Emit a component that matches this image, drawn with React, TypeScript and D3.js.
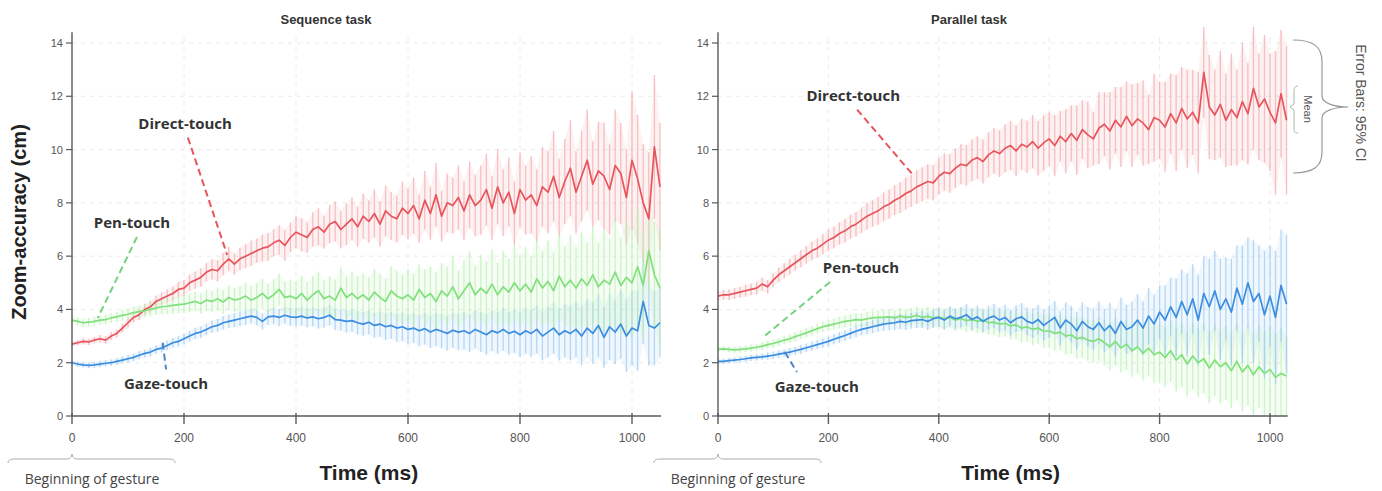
import * as d3 from 'd3';

// ---------------------------------------------------------------------------
// Data (one sample every 10 ms)
// ---------------------------------------------------------------------------
const TIME_STEP = 10;
const Y_TICKS = [0, 2, 4, 6, 8, 10, 12, 14];
const X_TICKS = [0, 200, 400, 600, 800, 1000];

// Sequence task
const SEQ_DIRECT = [
  2.7, 2.75, 2.8, 2.78, 2.85, 2.9, 2.85, 3.0, 3.1, 3.3,
  3.5, 3.7, 3.8, 4.0, 4.1, 4.3, 4.4, 4.5, 4.6, 4.75,
  4.8, 5.0, 5.1, 5.2, 5.4, 5.5, 5.45, 5.7, 5.9, 5.7,
  5.9, 6.0, 6.1, 6.2, 6.3, 6.35, 6.5, 6.6, 6.4, 6.7,
  6.9, 6.8, 6.7, 7.0, 7.1, 6.9, 7.2, 7.3, 7.0, 7.2,
  7.4, 7.1, 7.5, 7.3, 7.6, 7.2, 7.7, 7.5, 7.4, 7.8,
  7.6, 7.9, 7.4, 8.1, 7.6, 8.3, 7.5, 8.0, 7.9, 8.2,
  7.7, 8.3, 7.9, 8.1, 8.5, 7.8, 8.6, 8.0, 8.4, 7.6,
  8.5, 8.1, 8.3, 7.9, 8.6, 8.4, 9.0, 8.2, 8.8, 9.3,
  8.4, 9.0, 9.6, 8.7, 9.2, 9.0, 8.5, 9.4, 9.1, 8.2,
  9.6, 8.9, 8.0, 7.4, 10.1, 8.6,
];
const SEQ_DIRECT_CI = [
  0.1, 0.1, 0.12, 0.12, 0.12, 0.14, 0.14, 0.15, 0.15, 0.16,
  0.18, 0.18, 0.2, 0.2, 0.22, 0.22, 0.24, 0.25, 0.26, 0.28,
  0.3, 0.3, 0.32, 0.35, 0.34, 0.38, 0.4, 0.42, 0.45, 0.4,
  0.42, 0.45, 0.48, 0.45, 0.5, 0.52, 0.5, 0.55, 0.58, 0.55,
  0.6, 0.62, 0.58, 0.65, 0.7, 0.62, 0.72, 0.75, 0.7, 0.78,
  0.8, 0.75, 0.85, 0.8, 0.9, 0.85, 0.95, 0.9, 0.88, 1.0,
  0.95, 1.05, 0.9, 1.1, 1.0, 1.2, 0.95, 1.1, 1.05, 1.2,
  1.1, 1.25, 1.15, 1.3, 1.35, 1.2, 1.4, 1.25, 1.3, 1.2,
  1.4, 1.3, 1.45, 1.35, 1.5, 1.55, 1.7, 1.45, 1.6, 1.8,
  1.55, 1.7, 1.9, 1.6, 1.85, 2.0, 1.7, 2.1, 1.9, 1.8,
  2.6, 2.4, 2.2, 2.5, 2.7, 2.4,
];
const SEQ_PEN = [
  3.6, 3.55, 3.5, 3.52, 3.55, 3.6, 3.62, 3.68, 3.72, 3.78,
  3.82, 3.88, 3.92, 3.95, 4.0, 4.05, 4.1, 4.12, 4.15, 4.18,
  4.2, 4.25, 4.3, 4.22, 4.35, 4.3, 4.4, 4.28, 4.45, 4.35,
  4.4, 4.5, 4.35, 4.45, 4.6, 4.4, 4.55, 4.75, 4.45, 4.5,
  4.4, 4.6, 4.35, 4.55, 4.7, 4.4, 4.5, 4.35, 4.8, 4.45,
  4.6, 4.4, 4.55, 4.35, 4.65, 4.45, 4.3, 4.7, 4.5, 4.4,
  4.55, 4.35, 4.75, 4.45, 4.6, 4.3, 4.7, 4.5, 4.85, 4.4,
  4.7, 5.0, 4.55, 4.8, 4.6, 4.95, 4.55, 4.85, 4.65, 5.0,
  4.7, 4.95, 4.65, 5.15, 4.8, 5.05, 4.7, 5.25, 4.85, 5.1,
  4.8, 5.15, 4.9, 5.3, 4.85, 5.1, 4.95, 5.4, 4.9, 5.2,
  5.0, 5.6, 4.9, 6.2, 5.3, 4.8,
];
const SEQ_PEN_CI = [
  0.15, 0.15, 0.15, 0.16, 0.16, 0.17, 0.18, 0.18, 0.19, 0.2,
  0.2, 0.22, 0.22, 0.24, 0.25, 0.26, 0.28, 0.28, 0.3, 0.32,
  0.33, 0.35, 0.36, 0.38, 0.4, 0.4, 0.42, 0.44, 0.45, 0.46,
  0.48, 0.5, 0.52, 0.54, 0.55, 0.56, 0.58, 0.6, 0.6, 0.62,
  0.64, 0.66, 0.68, 0.7, 0.72, 0.7, 0.74, 0.76, 0.78, 0.8,
  0.82, 0.84, 0.8, 0.86, 0.88, 0.9, 0.85, 0.92, 0.95, 0.9,
  0.98, 1.0, 0.95, 1.05, 1.0, 1.1, 1.05, 1.1, 1.15, 1.05,
  1.15, 1.2, 1.1, 1.25, 1.2, 1.3, 1.2, 1.35, 1.25, 1.4,
  1.3, 1.4, 1.35, 1.5, 1.4, 1.55, 1.45, 1.6, 1.5, 1.7,
  1.55, 1.75, 1.6, 1.8, 1.65, 1.9, 1.7, 2.0, 1.8, 2.1,
  2.0, 2.2, 2.0, 1.6, 2.0, 2.2,
];
const SEQ_GAZE = [
  2.0, 1.95, 1.92, 1.9, 1.92, 1.95, 1.98, 2.0, 2.05, 2.1,
  2.15, 2.2, 2.28, 2.35, 2.4, 2.5, 2.55, 2.65, 2.75, 2.8,
  2.9, 3.0, 3.1, 3.15, 3.25, 3.35, 3.4, 3.5, 3.55, 3.6,
  3.65, 3.7, 3.75, 3.7, 3.55, 3.72, 3.75, 3.7, 3.78, 3.72,
  3.7, 3.75, 3.68, 3.72, 3.65, 3.7, 3.78, 3.62, 3.6, 3.55,
  3.58, 3.5, 3.45, 3.52, 3.4, 3.45, 3.35, 3.4, 3.3, 3.35,
  3.25, 3.3, 3.2, 3.28, 3.15, 3.25, 3.18, 3.1, 3.22, 3.15,
  3.2, 3.1, 3.25, 3.15, 3.05, 3.2, 3.12, 3.25, 3.1, 3.18,
  3.05, 3.2, 3.1, 3.25, 3.0, 3.15, 3.3, 3.05, 3.2, 3.1,
  3.25, 3.0, 3.3, 3.1, 3.4, 2.95, 3.35, 3.15, 3.45, 3.0,
  3.3, 3.2, 4.3, 3.4, 3.3, 3.5,
];
const SEQ_GAZE_CI = [
  0.1, 0.1, 0.1, 0.11, 0.11, 0.12, 0.12, 0.12, 0.13, 0.13,
  0.14, 0.14, 0.15, 0.15, 0.16, 0.16, 0.17, 0.18, 0.18, 0.19,
  0.2, 0.2, 0.21, 0.22, 0.22, 0.23, 0.24, 0.25, 0.25, 0.26,
  0.27, 0.28, 0.28, 0.29, 0.3, 0.3, 0.31, 0.32, 0.32, 0.33,
  0.34, 0.35, 0.35, 0.36, 0.37, 0.38, 0.38, 0.4, 0.4, 0.42,
  0.42, 0.44, 0.45, 0.46, 0.46, 0.48, 0.5, 0.5, 0.52, 0.54,
  0.55, 0.56, 0.58, 0.6, 0.6, 0.62, 0.64, 0.65, 0.66, 0.68,
  0.7, 0.7, 0.72, 0.74, 0.75, 0.76, 0.78, 0.8, 0.8, 0.82,
  0.84, 0.86, 0.88, 0.9, 0.92, 0.95, 0.96, 0.98, 1.0, 1.02,
  1.05, 1.1, 1.08, 1.15, 1.2, 1.15, 1.25, 1.2, 1.3, 1.35,
  1.4, 1.5, 1.6, 1.5, 1.4, 1.3,
];

// Parallel task
const PAR_DIRECT = [
  4.5, 4.55, 4.55, 4.6, 4.65, 4.7, 4.75, 4.8, 4.95, 4.85,
  5.1, 5.3, 5.45, 5.6, 5.75, 5.9, 6.05, 6.2, 6.3, 6.45,
  6.6, 6.7, 6.85, 6.95, 7.1, 7.2, 7.35, 7.5, 7.6, 7.7,
  7.85, 7.95, 8.1, 8.2, 8.35, 8.45, 8.6, 8.7, 8.8, 8.75,
  9.0, 9.15, 9.1, 9.3, 9.45, 9.4, 9.6, 9.7, 9.55, 9.8,
  9.95, 9.85, 10.05, 10.15, 9.95, 10.2, 10.1, 10.3, 10.05, 10.25,
  10.4, 10.15, 10.5, 10.3, 10.6, 10.35, 10.75, 10.55, 10.4, 10.8,
  10.95, 10.7, 11.1, 10.85, 11.25, 10.9, 11.15, 11.0, 10.75, 11.2,
  11.1, 10.85, 11.35, 11.0, 11.55, 11.15, 11.4, 11.0, 12.9, 11.6,
  11.3, 11.7, 11.1, 11.5, 11.2, 11.8, 11.35, 12.3, 11.6, 11.9,
  11.4, 11.0, 12.1, 11.1,
];
const PAR_DIRECT_CI = [
  0.18, 0.18, 0.2, 0.2, 0.2, 0.22, 0.22, 0.24, 0.25, 0.25,
  0.26, 0.27, 0.28, 0.3, 0.3, 0.32, 0.33, 0.35, 0.36, 0.38,
  0.4, 0.4, 0.42, 0.44, 0.45, 0.46, 0.48, 0.5, 0.5, 0.52,
  0.54, 0.55, 0.56, 0.58, 0.6, 0.6, 0.62, 0.64, 0.65, 0.66,
  0.68, 0.7, 0.72, 0.74, 0.75, 0.76, 0.78, 0.8, 0.82, 0.84,
  0.85, 0.88, 0.9, 0.92, 0.95, 0.96, 0.98, 1.0, 1.02, 1.05,
  1.0, 1.15, 0.95, 1.2, 1.05, 1.3, 1.1, 1.25, 1.0, 1.35,
  1.2, 1.45, 1.25, 1.5, 1.3, 1.55, 1.35, 1.6, 1.3, 1.65,
  1.45, 1.7, 1.5, 1.8, 1.55, 1.85, 1.6, 1.9, 1.7, 1.95,
  1.7, 2.0, 1.75, 2.1, 1.8, 2.2, 1.9, 2.3, 2.0, 2.4,
  2.2, 2.7, 2.4, 2.8,
];
const PAR_PEN = [
  2.5, 2.52, 2.5, 2.48, 2.5, 2.52, 2.55, 2.58, 2.62, 2.68,
  2.72, 2.78, 2.85, 2.9, 2.98, 3.05, 3.12, 3.2, 3.28, 3.35,
  3.4, 3.45, 3.5, 3.55, 3.58, 3.62, 3.6, 3.65, 3.68, 3.7,
  3.7, 3.72, 3.68, 3.75, 3.7, 3.72, 3.78, 3.7, 3.74, 3.68,
  3.72, 3.65, 3.7, 3.6, 3.66, 3.58, 3.62, 3.55, 3.6, 3.5,
  3.52, 3.45, 3.48, 3.38, 3.42, 3.3, 3.35, 3.25, 3.3, 3.18,
  3.2, 3.1, 3.15, 3.0, 3.05, 2.9, 2.95, 2.85, 2.8, 2.9,
  2.75, 2.6, 2.8, 2.55, 2.7, 2.45, 2.6, 2.35, 2.55, 2.3,
  2.4, 2.2, 2.45, 2.1, 2.3, 1.95, 2.25, 2.0, 2.15, 1.8,
  2.1, 1.85, 2.0, 1.7, 2.05, 1.65, 1.9, 1.55, 1.85, 1.6,
  1.75, 1.45, 1.6, 1.5,
];
const PAR_PEN_CI = [
  0.1, 0.1, 0.11, 0.11, 0.12, 0.12, 0.13, 0.13, 0.14, 0.14,
  0.15, 0.15, 0.16, 0.16, 0.17, 0.17, 0.18, 0.18, 0.19, 0.2,
  0.2, 0.21, 0.22, 0.22, 0.23, 0.24, 0.25, 0.26, 0.26, 0.27,
  0.28, 0.29, 0.3, 0.3, 0.31, 0.32, 0.33, 0.34, 0.35, 0.36,
  0.37, 0.38, 0.39, 0.4, 0.41, 0.42, 0.43, 0.44, 0.45, 0.46,
  0.48, 0.49, 0.5, 0.52, 0.53, 0.55, 0.56, 0.58, 0.6, 0.62,
  0.64, 0.66, 0.68, 0.7, 0.72, 0.74, 0.76, 0.78, 0.8, 0.82,
  0.85, 0.88, 0.9, 0.92, 0.95, 0.98, 1.0, 1.02, 1.05, 1.08,
  1.1, 1.12, 1.15, 1.18, 1.2, 1.22, 1.25, 1.28, 1.3, 1.32,
  1.35, 1.38, 1.4, 1.42, 1.45, 1.48, 1.5, 1.52, 1.55, 1.58,
  1.6, 1.65, 1.7, 1.5,
];
const PAR_GAZE = [
  2.05, 2.05, 2.08, 2.1, 2.12, 2.15, 2.18, 2.2, 2.22, 2.25,
  2.28, 2.32, 2.36, 2.4, 2.45, 2.5, 2.56, 2.62, 2.68, 2.74,
  2.8, 2.88, 2.95, 3.02, 3.1, 3.18, 3.25, 3.3, 3.35, 3.4,
  3.45, 3.48, 3.5, 3.55, 3.52, 3.58, 3.6, 3.62, 3.55, 3.65,
  3.7, 3.6, 3.75, 3.65, 3.7, 3.8, 3.62, 3.72, 3.55, 3.68,
  3.75, 3.6, 3.7, 3.5, 3.65, 3.72, 3.55, 3.48, 3.62, 3.4,
  3.55, 3.7, 3.3, 3.6, 3.45, 3.2, 3.55, 3.35, 3.25, 3.5,
  3.2, 3.4, 3.1, 3.55, 3.25, 3.35, 3.6, 3.3, 3.75, 3.45,
  3.9, 3.6, 4.1, 3.7, 4.3, 3.8, 4.4, 3.6, 4.6, 4.1,
  4.7, 4.0, 4.4, 3.9, 4.8, 4.2, 5.0, 4.3, 4.6, 3.8,
  4.5, 3.7, 4.9, 4.2,
];
const PAR_GAZE_CI = [
  0.1, 0.1, 0.1, 0.1, 0.11, 0.11, 0.12, 0.12, 0.12, 0.13,
  0.13, 0.14, 0.14, 0.15, 0.15, 0.16, 0.16, 0.17, 0.17, 0.18,
  0.18, 0.19, 0.2, 0.2, 0.21, 0.22, 0.22, 0.23, 0.24, 0.25,
  0.25, 0.26, 0.27, 0.28, 0.28, 0.3, 0.3, 0.32, 0.32, 0.34,
  0.35, 0.36, 0.36, 0.38, 0.38, 0.4, 0.4, 0.42, 0.42, 0.44,
  0.45, 0.46, 0.48, 0.48, 0.5, 0.52, 0.52, 0.55, 0.55, 0.58,
  0.6, 0.62, 0.64, 0.66, 0.68, 0.7, 0.72, 0.75, 0.78, 0.8,
  0.82, 0.85, 0.88, 0.9, 0.92, 0.95, 0.98, 1.0, 1.05, 1.1,
  1.0, 1.3, 1.1, 1.45, 1.2, 1.55, 1.3, 1.7, 1.4, 1.8,
  1.5, 1.9, 1.55, 2.0, 1.6, 2.2, 1.7, 2.3, 1.8, 2.4,
  1.9, 2.5, 2.1, 2.6,
];

// ---------------------------------------------------------------------------
// Colours
// ---------------------------------------------------------------------------
const RED = '#e8545c';
const RED_BAR = '#f4a0a6';
const GREEN = '#80e07c';
const GREEN_BAR = '#b6f0ae';
const BLUE = '#3b8de0';
const BLUE_BAR = '#94c6f2';
const AXIS = '#5a5a5a';
const GRID = '#eaeaea';
const TEXT = '#333';

const SANS = '"Liberation Sans", Arial, sans-serif';
const LABEL_FONT = '"Open Sans", "Liberation Sans", sans-serif';

type Series = { mean: number[]; ci: number[]; line: string; bar: string };
type Note = {
  text: string;
  at: [number, number];
  from: [number, number];
  to: [number, number];
  color: string;
};

const SEQ_SERIES: Series[] = [
  { mean: SEQ_DIRECT, ci: SEQ_DIRECT_CI, line: RED, bar: RED_BAR },
  { mean: SEQ_GAZE, ci: SEQ_GAZE_CI, line: BLUE, bar: BLUE_BAR },
  { mean: SEQ_PEN, ci: SEQ_PEN_CI, line: GREEN, bar: GREEN_BAR },
];
const PAR_SERIES: Series[] = [
  { mean: PAR_DIRECT, ci: PAR_DIRECT_CI, line: RED, bar: RED_BAR },
  { mean: PAR_PEN, ci: PAR_PEN_CI, line: GREEN, bar: GREEN_BAR },
  { mean: PAR_GAZE, ci: PAR_GAZE_CI, line: BLUE, bar: BLUE_BAR },
];

// annotation positions in data units (ms, cm)
const SEQ_NOTES: Note[] = [
  { text: 'Direct-touch', at: [202, 11.0], from: [207, 10.45], to: [277, 6.05], color: RED },
  { text: 'Pen-touch', at: [107, 7.28], from: [116, 6.72], to: [46, 3.68], color: '#72d27e' },
  { text: 'Gaze-touch', at: [168, 1.24], from: [162, 2.75], to: [168, 1.75], color: '#4d86c4' },
];
const PAR_NOTES: Note[] = [
  { text: 'Direct-touch', at: [245, 12.05], from: [252, 11.5], to: [351, 9.1], color: RED },
  { text: 'Pen-touch', at: [259, 5.59], from: [203, 5.03], to: [80, 2.93], color: '#72d27e' },
  { text: 'Gaze-touch', at: [179, 1.13], from: [121, 2.4], to: [143, 1.65], color: '#4d86c4' },
];

// ---------------------------------------------------------------------------
// One panel
// ---------------------------------------------------------------------------
function Panel({
  title,
  titleX,
  x0,
  x1000,
  endMs,
  series,
  notes,
}: {
  title: string;
  titleX: number;
  x0: number;
  x1000: number;
  endMs: number;
  series: Series[];
  notes: Note[];
}) {
  const x = d3.scaleLinear().domain([0, 1000]).range([x0, x1000]);
  const y = d3.scaleLinear().domain([0, 14]).range([416, 43]);

  const line = d3
    .line<number>()
    .x((_, i) => x(i * TIME_STEP))
    .y((d) => y(d));

  const band = (s: Series) =>
    d3
      .area<number>()
      .x((_, i) => x(i * TIME_STEP))
      .y0((d, i) => y(Math.max(0, d - s.ci[i])))
      .y1((d, i) => y(d + s.ci[i]))(s.mean) ?? '';

  const yBottom = y(0);

  return (
    <g>
      {/* grid */}
      {Y_TICKS.filter((t) => t > 0).map((t) => (
        <line
          key={`gy${t}`}
          x1={x(0)}
          x2={x(endMs)}
          y1={y(t)}
          y2={y(t)}
          stroke={GRID}
          strokeDasharray="4,5"
        />
      ))}
      {X_TICKS.filter((t) => t > 0).map((t) => (
        <line
          key={`gx${t}`}
          x1={x(t)}
          x2={x(t)}
          y1={y(14.2)}
          y2={yBottom}
          stroke={GRID}
          strokeDasharray="4,5"
        />
      ))}

      {/* confidence intervals */}
      {series.map((s, k) => (
        <g key={`ci${k}`}>
          <path d={band(s)} fill={s.bar} fillOpacity={0.14} />
          {s.mean.map((m, i) => (
            <line
              key={i}
              x1={x(i * TIME_STEP)}
              x2={x(i * TIME_STEP)}
              y1={y(Math.max(0, m - s.ci[i]))}
              y2={y(m + s.ci[i])}
              stroke={s.bar}
              strokeWidth={1.3}
              strokeOpacity={0.65}
            />
          ))}
        </g>
      ))}

      {/* means */}
      {series.map((s, k) => (
        <path
          key={`m${k}`}
          d={line(s.mean) ?? ''}
          fill="none"
          stroke={s.line}
          strokeWidth={1.7}
          strokeLinejoin="round"
        />
      ))}

      {/* axes */}
      <line x1={x0} x2={x0} y1={y(14.4)} y2={yBottom} stroke={AXIS} strokeWidth={1.4} />
      <line x1={x0} x2={x(endMs)} y1={yBottom} y2={yBottom} stroke={AXIS} strokeWidth={1.4} />
      {Y_TICKS.map((t) => (
        <g key={`yt${t}`}>
          <line x1={x0 - 6} x2={x0} y1={y(t)} y2={y(t)} stroke={AXIS} strokeWidth={1.2} />
          <text
            x={x0 - 9}
            y={y(t)}
            textAnchor="end"
            dominantBaseline="central"
            fontFamily={SANS}
            fontSize={11}
            fill="#555"
          >
            {t}
          </text>
        </g>
      ))}
      {X_TICKS.map((t) => (
        <g key={`xt${t}`}>
          <line x1={x(t)} x2={x(t)} y1={yBottom - 3} y2={yBottom + 8} stroke={AXIS} strokeWidth={1.4} />
          <text
            x={x(t)}
            y={yBottom + 22}
            textAnchor="middle"
            dominantBaseline="central"
            fontFamily={SANS}
            fontSize={12}
            fill="#555"
          >
            {t}
          </text>
        </g>
      ))}

      {/* title */}
      <text
        x={titleX}
        y={y(14) - 24}
        textAnchor="middle"
        dominantBaseline="central"
        fontFamily={SANS}
        fontWeight="bold"
        fontSize={13}
        fill={TEXT}
      >
        {title}
      </text>

      {/* series labels */}
      {notes.map((n) => (
        <g key={n.text}>
          <line
            x1={x(n.from[0])}
            y1={y(n.from[1])}
            x2={x(n.to[0])}
            y2={y(n.to[1])}
            stroke={n.color}
            strokeWidth={2}
            strokeDasharray="7,4"
          />
          <text
            x={x(n.at[0])}
            y={y(n.at[1])}
            textAnchor="middle"
            dominantBaseline="central"
            fontFamily={LABEL_FONT}
            fontWeight="bold"
            fontSize={15}
            fill={TEXT}
          >
            {n.text}
          </text>
        </g>
      ))}

      {/* "Beginning of gesture" */}
      <path
        d={`M${x0 - 64},${yBottom + 47} C${x0 - 64},${yBottom + 43} ${x0 - 60},${yBottom + 43} ${x0 - 56},${yBottom + 43}
            L${x0 - 6},${yBottom + 43} C${x0 - 2},${yBottom + 43} ${x0},${yBottom + 41} ${x0},${yBottom + 38}
            C${x0},${yBottom + 41} ${x0 + 2},${yBottom + 43} ${x0 + 6},${yBottom + 43}
            L${x0 + 95},${yBottom + 43} C${x0 + 99},${yBottom + 43} ${x0 + 103},${yBottom + 43} ${x0 + 103},${yBottom + 47}`}
        fill="none"
        stroke="#aaa"
        strokeWidth={1}
      />
      <text
        x={x0 + 20}
        y={yBottom + 62}
        textAnchor="middle"
        dominantBaseline="central"
        fontFamily={LABEL_FONT}
        fontSize={14}
        fill="#444"
      >
        Beginning of gesture
      </text>

      {/* x-axis title */}
      <text
        x={x(530)}
        y={yBottom + 56}
        textAnchor="middle"
        dominantBaseline="central"
        fontFamily={SANS}
        fontWeight="bold"
        fontSize={21}
        fill="#222"
      >
        Time (ms)
      </text>
    </g>
  );
}

export default function App() {
  return (
    <div style={{ position: 'absolute', left: 0, top: 0, background: '#fff' }}>
      <svg width={1382} height={491} style={{ display: 'block' }}>
        <rect width={1382} height={491} fill="#fff" />

        <text
          transform="translate(19,222) rotate(-90)"
          textAnchor="middle"
          dominantBaseline="central"
          fontFamily={SANS}
          fontWeight="bold"
          fontSize={20}
          fill="#222"
        >
          Zoom-accuracy (cm)
        </text>

        <Panel
          title="Sequence task"
          titleX={326}
          x0={72}
          x1000={632}
          endMs={1052}
          series={SEQ_SERIES}
          notes={SEQ_NOTES}
        />
        <Panel
          title="Parallel task"
          titleX={969}
          x0={718}
          x1000={1270}
          endMs={1032}
          series={PAR_SERIES}
          notes={PAR_NOTES}
        />

        {/* error bar legend */}
        <path
          d="M1293,40 C1314,40 1322,47 1322,62 L1322,96 C1322,103 1334,107 1348,107 C1334,107 1322,111 1322,118 L1322,152 C1322,166 1314,173 1293,173"
          fill="none"
          stroke="#999"
          strokeWidth={1.2}
        />
        <path
          d="M1298,86 C1295,86 1294,88 1294,92 L1294,104 L1290,107 L1294,110 L1294,128 C1294,132 1295,133 1298,133"
          fill="none"
          stroke="#aab8a8"
          strokeWidth={1}
        />
        <text
          transform="translate(1308,109) rotate(90)"
          textAnchor="middle"
          dominantBaseline="central"
          fontFamily={SANS}
          fontSize={11}
          fill="#555"
        >
          Mean
        </text>
        <text
          transform="translate(1361,103) rotate(90)"
          textAnchor="middle"
          dominantBaseline="central"
          fontFamily={SANS}
          fontSize={14}
          fill="#555"
        >
          Error Bars: 95% CI
        </text>
      </svg>
    </div>
  );
}
